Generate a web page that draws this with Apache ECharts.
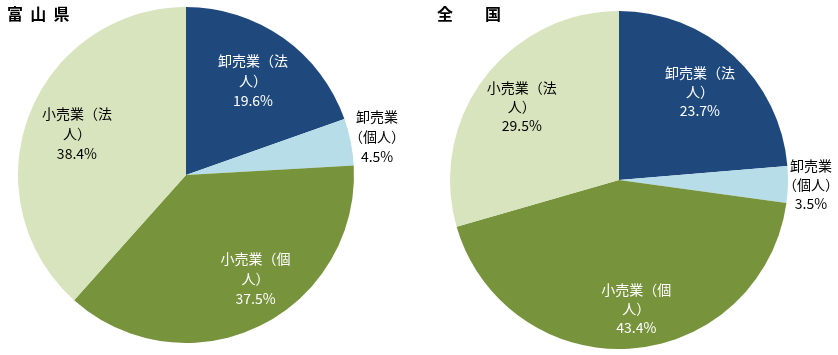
<!DOCTYPE html>
<html>
<head>
<meta charset="utf-8">
<script src="https://cdn.jsdelivr.net/npm/echarts@6/dist/echarts.min.js"></script>
<style>
html,body{margin:0;padding:0;background:#fff;}
#c{width:838px;height:355px;}
</style>
</head>
<body>
<div id="c"></div>
<script>
// ---- data ----
const categories = ['卸売業（法人）', '卸売業（個人）', '小売業（個人）', '小売業（法人）'];
const labelTexts = ['卸売業（法\n人）', '卸売業\n（個人）', '小売業（個\n人）', '小売業（法\n人）'];
const toyamaValues = [19.6, 4.5, 37.5, 38.4];
const zenkokuValues = [23.7, 3.5, 43.4, 29.5];
const titles = ['富  山  県', '全　　国'];

// ---- styles ----
const colors = ['#1F497D', '#B7DEE8', '#77933C', '#D7E4BD'];
const labelColors = ['#ffffff', '#000000', '#ffffff', '#000000'];
const FONT = '"Noto Sans CJK JP", "Noto Sans", sans-serif';

// label placement: radius factor and angle tweak (deg) per slice
const leftLabelPlace = { k: [0.69, 1.16, 0.745, 0.695], dA: [0, 0, -8, 0], lh: 20 };
const rightLabelPlace = { k: [0.707, 1.136, 0.77, 0.72], dA: [0, 0, -3.5, 0], lh: 19 };

const chart = echarts.init(document.getElementById('c'), null, { renderer: 'canvas' });

function makePie(values, center, radius, place) {
  const total = values.reduce((a, b) => a + b, 0);
  const mids = [];
  let acc = 0;
  values.forEach(v => { mids.push((acc + v / 2) / total * 360); acc += v; });
  return {
    type: 'pie',
    center: center,
    radius: radius,
    startAngle: 90,
    clockwise: true,
    avoidLabelOverlap: false,
    animation: false,
    silent: true,
    itemStyle: { borderWidth: 0 },
    label: {
      show: true,
      position: 'inside',
      fontFamily: FONT,
      fontSize: 14,
      lineHeight: place.lh,
      align: 'center',
      formatter: p => labelTexts[p.dataIndex] + '\n' + p.value.toFixed(1) + '%'
    },
    labelLine: { show: false },
    labelLayout: function (params) {
      const i = params.dataIndex;
      const a = (mids[i] + place.dA[i]) * Math.PI / 180;
      const r = place.k[i] * radius;
      return {
        x: center[0] + r * Math.sin(a),
        y: center[1] - r * Math.cos(a),
        align: 'center',
        verticalAlign: 'middle'
      };
    },
    data: values.map((v, i) => ({
      name: categories[i],
      value: v,
      itemStyle: { color: colors[i] },
      label: { color: labelColors[i] }
    }))
  };
}

chart.setOption({
  backgroundColor: '#ffffff',
  title: [
    { text: titles[0], left: 2, top: 1, textStyle: { fontFamily: FONT, fontSize: 16, fontWeight: 'bold', color: '#000' } },
    { text: titles[1], left: 432, top: 1, textStyle: { fontFamily: FONT, fontSize: 16, fontWeight: 'bold', color: '#000' } }
  ],
  series: [
    makePie(toyamaValues, [186, 175], 168, leftLabelPlace),
    makePie(zenkokuValues, [619, 180], 169, rightLabelPlace)
  ]
});
</script>
</body>
</html>
